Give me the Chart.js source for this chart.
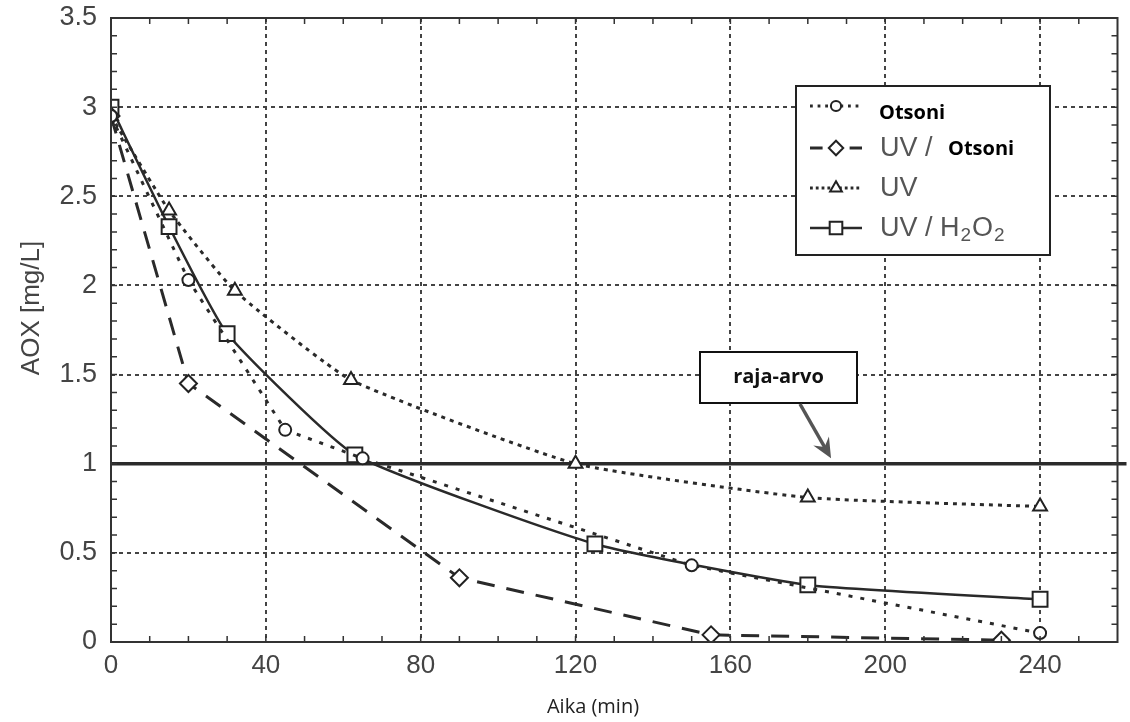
<!DOCTYPE html>
<html><head><meta charset="utf-8">
<script src="https://cdn.jsdelivr.net/npm/chart.js@4"></script>
<style>html,body{margin:0;padding:0;background:#fff;}#wrap{width:1130px;height:722px;}</style>
</head><body><div id="wrap"><canvas id="c" width="1130" height="722"></canvas></div>
<script>
// ---- data ----
const seriesNames = ['Otsoni', 'UV / Otsoni', 'UV', 'UV / H2O2'];
const otsoniX = [0, 20, 45, 65, 150, 240];
const otsoniY = [2.95, 2.03, 1.19, 1.03, 0.43, 0.05];
const uvOtsoniX = [0, 20, 90, 155, 230];
const uvOtsoniY = [2.95, 1.45, 0.36, 0.04, 0.01];
const uvX = [0, 15, 32, 62, 120, 180, 240];
const uvY = [2.95, 2.42, 1.97, 1.47, 1.0, 0.81, 0.76];
const uvH2o2X = [0, 15, 30, 63, 125, 180, 240];
const uvH2o2Y = [3.0, 2.33, 1.73, 1.05, 0.55, 0.32, 0.24];
const xTickValues = [0, 40, 80, 120, 160, 200, 240];
const xTickLabels = ['0', '40', '80', '120', '160', '200', '240'];
const yTickValues = [0, 0.5, 1, 1.5, 2, 2.5, 3, 3.5];
const yTickLabels = ['0', '0.5', '1', '1.5', '2', '2.5', '3', '3.5'];
const xMin = 0, xMax = 260, yMin = 0, yMax = 3.5;
const limitValue = 1;
const limitLabel = 'raja-arvo';
const limitArrowTip = {x: 186, y: 1.03};
const xTitle = 'Aika (min)';
const yTitle = 'AOX [mg/L]';

const pts = (xs, ys) => xs.map((x, i) => ({x: x, y: ys[i]}));
const INK = '#2a2a2a';

const markerStyles = ['circle', 'rectRot', 'triangle', 'rect'];
const markerSizes = [6, 8.5, 8, 10.5];
const lineDashes = [[4, 8], [18, 12], [4, 5], []];
const lineWidths = [3, 3, 3, 2.5];

function drawMarker(ctx, style, x, y, r) {
  ctx.save();
  ctx.setLineDash([]);
  ctx.beginPath();
  if (style === 'circle') ctx.arc(x, y, r, 0, Math.PI * 2);
  else if (style === 'rectRot') { ctx.moveTo(x, y - r); ctx.lineTo(x + r, y); ctx.lineTo(x, y + r); ctx.lineTo(x - r, y); ctx.closePath(); }
  else if (style === 'triangle') { ctx.moveTo(x, y - r); ctx.lineTo(x + r * 0.866, y + r * 0.5); ctx.lineTo(x - r * 0.866, y + r * 0.5); ctx.closePath(); }
  else { const s = r * Math.SQRT1_2; ctx.rect(x - s, y - s, 2 * s, 2 * s); }
  ctx.fillStyle = '#fff'; ctx.fill();
  ctx.lineWidth = 2; ctx.strokeStyle = '#222'; ctx.stroke();
  ctx.restore();
}

const framePlugin = {
  id: 'framePlugin',
  beforeDatasetsDraw(chart) {
    const {ctx, chartArea: a, scales: {y}} = chart;
    const py = y.getPixelForValue(limitValue);
    ctx.save();
    ctx.strokeStyle = '#2a2a2a'; ctx.lineWidth = 3.5;
    ctx.beginPath(); ctx.moveTo(a.left, py); ctx.lineTo(a.right + 9, py); ctx.stroke();
    ctx.restore();
  },
  afterDatasetsDraw(chart) {
    const {ctx, chartArea: a, scales: {x, y}} = chart;
    ctx.save();
    // frame
    ctx.strokeStyle = '#333'; ctx.lineWidth = 2; ctx.setLineDash([]);
    ctx.strokeRect(a.left, a.top, a.right - a.left, a.bottom - a.top);
    // minor ticks
    ctx.lineWidth = 1.5;
    ctx.beginPath();
    for (let v = xMin + 10; v < xMax; v += 10) {
      const px = x.getPixelForValue(v);
      ctx.moveTo(px, a.bottom); ctx.lineTo(px, a.bottom - 6);
      ctx.moveTo(px, a.top); ctx.lineTo(px, a.top + 6);
    }
    for (let i = 1; i < 35; i++) {
      const py = y.getPixelForValue(i / 10);
      ctx.moveTo(a.left, py); ctx.lineTo(a.left + 6, py);
      ctx.moveTo(a.right, py); ctx.lineTo(a.right - 6, py);
    }
    ctx.stroke();

    // legend
    const bx = 796, by = 86, bw = 254, bh = 169;
    ctx.fillStyle = '#fff'; ctx.fillRect(bx, by, bw, bh);
    ctx.strokeStyle = '#222'; ctx.lineWidth = 2; ctx.strokeRect(bx, by, bw, bh);
    const rowsY = [106, 148, 188, 228];
    chart.data.datasets.forEach((ds, i) => {
      const ry = rowsY[i];
      ctx.save();
      ctx.strokeStyle = INK; ctx.lineWidth = lineWidths[i];
      ctx.setLineDash(lineDashes[i].length ? [lineDashes[i][0] * 0.7, lineDashes[i][1] * 0.6] : []);
      ctx.beginPath(); ctx.moveTo(810, ry); ctx.lineTo(862, ry); ctx.stroke();
      ctx.restore();
      drawMarker(ctx, markerStyles[i], 836, ry, markerSizes[i] * 0.85);
    });
    ctx.textBaseline = 'middle'; ctx.textAlign = 'left';
    const gray = '27px "Liberation Sans", Arial, sans-serif';
    const bold = 'bold 20px "Open Sans", sans-serif';
    ctx.fillStyle = '#000'; ctx.font = bold;
    ctx.fillText('Otsoni', 879, 113);
    ctx.fillStyle = '#555'; ctx.font = gray;
    ctx.fillText('UV /', 880, 149);
    ctx.fillStyle = '#000'; ctx.font = bold;
    ctx.fillText('Otsoni', 948, 149);
    ctx.fillStyle = '#555'; ctx.font = gray;
    ctx.fillText('UV', 880, 189);
    let tx = 880;
    ctx.fillText('UV / H', tx, 229); tx += ctx.measureText('UV / H').width + 1;
    ctx.font = '19px "Liberation Sans", Arial, sans-serif';
    ctx.fillText('2', tx, 236); tx += ctx.measureText('2').width + 1;
    ctx.font = gray;
    ctx.fillText('O', tx, 229); tx += ctx.measureText('O').width + 1;
    ctx.font = '19px "Liberation Sans", Arial, sans-serif';
    ctx.fillText('2', tx, 236);

    // annotation box + arrow
    const tipX = x.getPixelForValue(limitArrowTip.x), tipY = y.getPixelForValue(limitArrowTip.y);
    const abx = 700, aby = 352, abw = 157, abh = 51;
    ctx.fillStyle = '#fff'; ctx.fillRect(abx, aby, abw, abh);
    ctx.strokeStyle = '#111'; ctx.lineWidth = 2; ctx.strokeRect(abx, aby, abw, abh);
    ctx.fillStyle = '#111'; ctx.font = bold; ctx.textAlign = 'center';
    ctx.fillText(limitLabel, abx + abw / 2, aby + abh / 2);
    const sx = 800, sy = aby + abh + 1;
    const ang = Math.atan2(tipY - sy, tipX - sx);
    ctx.strokeStyle = '#555'; ctx.fillStyle = '#555'; ctx.lineWidth = 3.5;
    ctx.beginPath(); ctx.moveTo(sx, sy);
    ctx.lineTo(tipX - Math.cos(ang) * 10, tipY - Math.sin(ang) * 10); ctx.stroke();
    ctx.beginPath();
    ctx.moveTo(tipX, tipY);
    ctx.lineTo(tipX - 20 * Math.cos(ang) + 9 * Math.sin(ang), tipY - 20 * Math.sin(ang) - 9 * Math.cos(ang));
    ctx.lineTo(tipX - 13 * Math.cos(ang), tipY - 13 * Math.sin(ang));
    ctx.lineTo(tipX - 20 * Math.cos(ang) - 9 * Math.sin(ang), tipY - 20 * Math.sin(ang) + 9 * Math.cos(ang));
    ctx.closePath(); ctx.fill();

    // axis titles
    ctx.fillStyle = '#222'; ctx.textAlign = 'center'; ctx.textBaseline = 'middle';
    ctx.font = '20px "Open Sans", sans-serif';
    ctx.fillText(xTitle, 593, 707);
    ctx.save();
    ctx.translate(32, 308); ctx.rotate(-Math.PI / 2);
    ctx.fillStyle = '#444';
    ctx.font = '26px "Liberation Sans", Arial, sans-serif';
    ctx.fillText(yTitle, 0, 0);
    ctx.restore();
    ctx.restore();
  }
};

const datasets = [
  {label: seriesNames[0], data: pts(otsoniX, otsoniY)},
  {label: seriesNames[1], data: pts(uvOtsoniX, uvOtsoniY)},
  {label: seriesNames[2], data: pts(uvX, uvY), tension: 0.15},
  {label: seriesNames[3], data: pts(uvH2o2X, uvH2o2Y), tension: 0.15}
].map((d, i) => Object.assign({
  borderColor: INK,
  borderWidth: lineWidths[i],
  borderDash: lineDashes[i],
  pointStyle: markerStyles[i],
  pointRadius: markerSizes[i],
  pointBackgroundColor: '#fff',
  pointBorderColor: '#222',
  pointBorderWidth: 2,
  fill: false,
  tension: 0
}, d));

new Chart(document.getElementById('c'), {
  type: 'line',
  data: {datasets: datasets},
  plugins: [framePlugin],
  options: {
    responsive: false,
    animation: false,
    devicePixelRatio: 1,
    layout: {padding: {top: 18, right: 12, left: 0, bottom: 0}},
    plugins: {legend: {display: false}, tooltip: {enabled: false}},
    scales: {
      x: {
        type: 'linear', min: xMin, max: xMax,
        afterFit: s => { s.height = 80; s.paddingLeft = 0; s.paddingRight = 0; },
        afterBuildTicks: s => { s.ticks = xTickValues.map(v => ({value: v})); },
        ticks: {callback: (v, i) => xTickLabels[i], padding: 8, color: '#444', maxRotation: 0,
          font: {family: '"Liberation Sans", Arial, sans-serif', size: 26}},
        grid: {color: '#444', lineWidth: 2, drawTicks: false},
        border: {display: false, dash: [4, 4]}
      },
      y: {
        type: 'linear', min: yMin, max: yMax,
        afterFit: s => { s.width = 111; s.paddingTop = 0; s.paddingBottom = 0; },
        afterBuildTicks: s => { s.ticks = yTickValues.map(v => ({value: v})); },
        ticks: {callback: (v, i) => yTickLabels[i], padding: 14, color: '#444',
          font: {family: '"Liberation Sans", Arial, sans-serif', size: 27}},
        grid: {color: '#444', lineWidth: 2, drawTicks: false},
        border: {display: false, dash: [4, 4]}
      }
    }
  }
});
</script>
</body></html>
